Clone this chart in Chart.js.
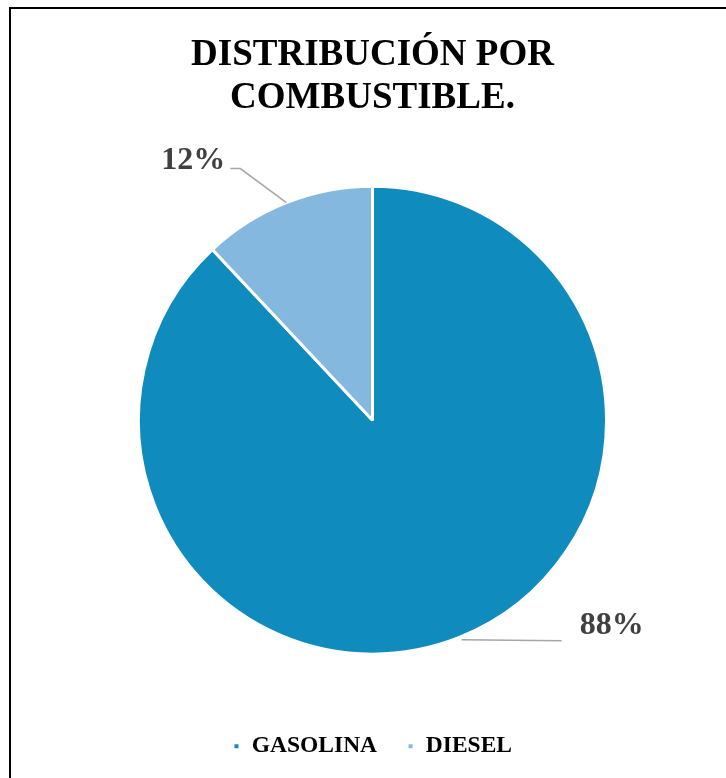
<!DOCTYPE html>
<html>
<head>
<meta charset="utf-8">
<script src="https://cdn.jsdelivr.net/npm/chart.js@4"></script>
<style>
  html, body { margin: 0; padding: 0; background: #fff; overflow: hidden; }
  #wrap { position: relative; width: 726px; height: 778px; }
  #frame {
    position: absolute; left: 9px; top: 7px; width: 800px; height: 900px;
    border: 2px solid #000; pointer-events: none;
  }
</style>
</head>
<body>
<div id="wrap">
  <canvas id="fuelChart" width="726" height="778"></canvas>
  <div id="frame"></div>
</div>
<script>
// data
const fuelTypes = ["GASOLINA", "DIESEL"];
const fuelShare = [88, 12];
const titleLines = ["DISTRIBUCIÓN POR", "COMBUSTIBLE."];

const sliceColors = ["#0F8BBE", "#85B8DF"];
const serif = "'Liberation Serif', 'Times New Roman', serif";

// leader line + percentage label for each slice
const pctLabels = {
  id: "pctLabels",
  afterDatasetsDraw(chart) {
    const ctx = chart.ctx;
    const meta = chart.getDatasetMeta(0);
    const total = fuelShare.reduce((a, b) => a + b, 0);

    meta.data.forEach((arc, i) => {
      const p = arc.getProps(["x", "y", "startAngle", "endAngle", "outerRadius"], true);
      const mid = (p.startAngle + p.endAngle) / 2;
      const px = p.x + Math.cos(mid) * p.outerRadius;
      const py = p.y + Math.sin(mid) * p.outerRadius;
      const text = Math.round(fuelShare[i] / total * 100) + "%";

      ctx.save();
      ctx.strokeStyle = "#A6A6A6";
      ctx.lineWidth = 1.5;
      ctx.font = "bold 32px " + serif;
      ctx.fillStyle = "#404040";
      ctx.textBaseline = "middle";
      ctx.beginPath();
      if (Math.cos(mid) < 0) {
        // upper left slice: elbow line, label to the left
        const ex = px - 46, ey = py - 34;
        ctx.moveTo(px, py);
        ctx.lineTo(ex, ey);
        ctx.lineTo(ex - 10, ey);
        ctx.stroke();
        ctx.textAlign = "right";
        ctx.fillText(text, ex - 15, ey - 8);
      } else {
        // lower right slice: flat line, label to the right
        ctx.moveTo(px + 3, py + 2);
        ctx.lineTo(px + 103, py + 3);
        ctx.stroke();
        ctx.textAlign = "left";
        ctx.fillText(text, px + 121, py - 12);
      }
      ctx.restore();
    });
  }
};

new Chart(document.getElementById("fuelChart").getContext("2d"), {
  type: "pie",
  data: {
    labels: fuelTypes,
    datasets: [
      {
        data: fuelShare,
        backgroundColor: sliceColors,
        borderColor: "#fff",
        borderWidth: 3,
      },
    ],
  },
  options: {
    responsive: false,
    animation: false,
    layout: { padding: { left: 137, right: 118, top: 0, bottom: 10 } },
    plugins: {
      title: {
        display: true,
        text: titleLines,
        color: "#000",
        font: { family: serif, size: 37, weight: "bold", lineHeight: 1.16 },
        padding: { top: 34, bottom: 16 },
      },
      legend: {
        position: "bottom",
        labels: {
          color: "#000",
          font: { family: serif, size: 23.5, weight: "bold" },
          boxWidth: 7,
          boxHeight: 7,
          padding: 30,
        },
      },
      tooltip: { enabled: false },
    },
  },
  plugins: [pctLabels],
});
</script>
</body>
</html>
